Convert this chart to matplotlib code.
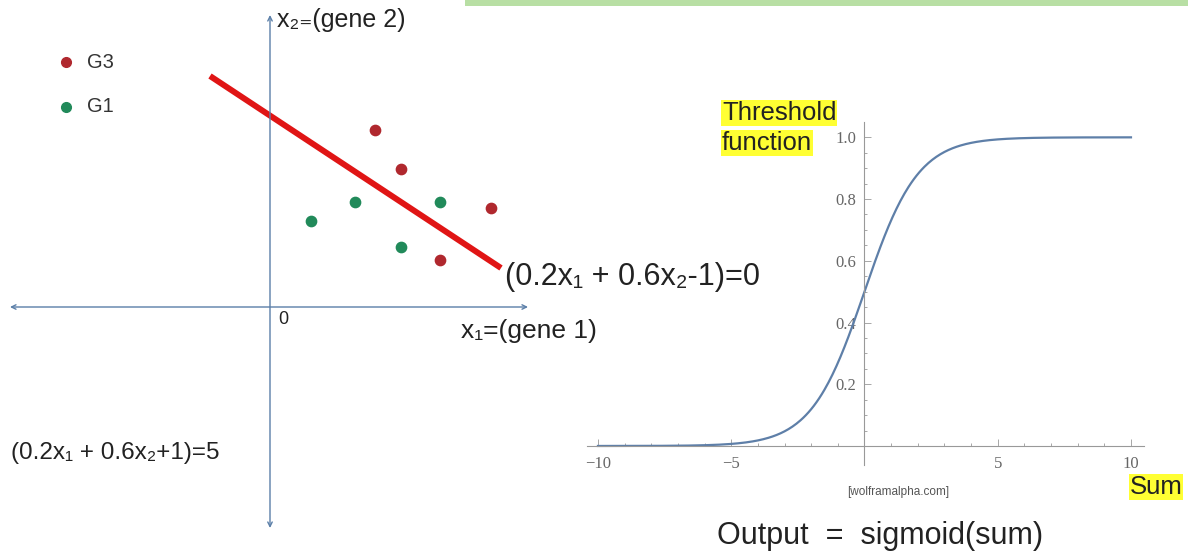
import numpy as np
import matplotlib.pyplot as plt
from matplotlib.patches import Rectangle

plt.rcParams['font.family'] = ['Liberation Sans', 'DejaVu Sans']

# data: gene scatter (schematic units, origin at axes cross)
g3_x = [5.25, 6.55, 11.05, 8.5]
g3_y = [8.85, 6.9, 4.95, 2.35]
g1_x = [2.05, 4.25, 8.5, 6.55]
g1_y = [4.3, 5.25, 5.25, 3.0]
line_x = [-3.0, 11.55]
line_y = [11.55, 1.95]

# sigmoid panel
sum_vals = np.linspace(-10, 10, 401)
sig_vals = 1 / (1 + np.exp(-sum_vals))
x_ticks = [-10, -5, 5, 10]
y_ticks = [0.2, 0.4, 0.6, 0.8, 1.0]

W, H = 1188, 553
fig = plt.figure(figsize=(W / 100, H / 100), dpi=100)

def P(x, y):
    return x / W, 1 - y / H

# left schematic
ax = fig.add_axes([0, 0, 1, 1])
ax.set_xlim(-270 / 20, (W - 270) / 20)
ax.set_ylim((307 - H) / 20, 307 / 20)
ax.axis('off')

axis_col = '#5b7fa8'
ax.annotate('', xy=(-13.0, 0), xytext=(12.9, 0),
            arrowprops=dict(arrowstyle='<->', color=axis_col, lw=1.0,
                            mutation_scale=8, shrinkA=0, shrinkB=0))
ax.annotate('', xy=(0, 14.6), xytext=(0, -11.05),
            arrowprops=dict(arrowstyle='<->', color=axis_col, lw=1.0,
                            mutation_scale=8, shrinkA=0, shrinkB=0))

ax.plot(line_x, line_y, color='#e01515', lw=4.3, solid_capstyle='butt')
ax.scatter(g3_x, g3_y, s=55, color='#b0282e', zorder=3)
ax.scatter(g1_x, g1_y, s=55, color='#218a5a', zorder=3)

# legend
fig.add_artist(plt.Line2D([66 / W], [1 - 62 / H], marker='o', ms=7,
                          color='#b0282e', transform=fig.transFigure))
fig.add_artist(plt.Line2D([66 / W], [1 - 107 / H], marker='o', ms=7,
                          color='#218a5a', transform=fig.transFigure))
txt = '#222222'
fig.text(*P(87, 62), 'G3', fontsize=14.5, va='center', color='#333333')
fig.text(*P(87, 107), 'G1', fontsize=14.5, va='center', color='#333333')

fig.text(*P(277, 20), 'x₂₌(gene 2)', fontsize=18, va='center', color=txt)
fig.text(*P(278, 319), '0', fontsize=13, va='center', color=txt)
fig.text(*P(461, 331), 'x₁=(gene 1)', fontsize=19, va='center', color=txt)
fig.text(*P(505, 277), '(0.2x₁ + 0.6x₂-1)=0', fontsize=22, va='center', color=txt)
fig.text(*P(11, 453), '(0.2x₁ + 0.6x₂+1)=5', fontsize=17.5, va='center', color=txt)

# top green strip
fig.add_artist(Rectangle(P(465, 6), (W - 465) / W, 6 / H, transform=fig.transFigure,
                         color='#b8dfa4', lw=0))

# sigmoid axes
ax2 = fig.add_axes([587.3 / W, (H - 464.5) / H, 557 / W, 342.6 / H])
ax2.set_xlim(-10.4, 10.5)
ax2.set_ylim(-0.06, 1.05)
ax2.patch.set_alpha(0)
ax2.plot(sum_vals, sig_vals, color='#5e7fa8', lw=1.6)
for s in ['top', 'right']:
    ax2.spines[s].set_visible(False)
ax2.spines['left'].set_position(('data', 0))
ax2.spines['bottom'].set_position(('data', 0))
for s in ['left', 'bottom']:
    ax2.spines[s].set_color('#999999')
    ax2.spines[s].set_linewidth(0.8)
ax2.set_xticks(x_ticks)
ax2.set_yticks(y_ticks)
ax2.set_xticks(np.arange(-10, 10.5, 1), minor=True)
ax2.set_yticks(np.arange(0.05, 1.01, 0.05), minor=True)
ax2.set_xticklabels([str(v) if v > 0 else '\u2212' + str(-v) for v in x_ticks])
ax2.set_yticklabels(['%.1f' % v for v in y_ticks])
ax2.tick_params(which='both', direction='in', colors='#999999', width=0.6,
                labelcolor='#666666', labelsize=12)
ax2.tick_params(which='major', length=5)
ax2.tick_params(which='minor', length=2.5)
ax2.tick_params(axis='x', pad=7)
ax2.tick_params(axis='y', pad=6)
for lab in ax2.get_xticklabels() + ax2.get_yticklabels():
    lab.set_family(['Liberation Serif', 'DejaVu Serif'])

yellow = '#ffff33'
fig.text(*P(722, 113), 'Threshold', fontsize=18.5, va='center', color=txt,
         bbox=dict(facecolor=yellow, edgecolor='none', pad=0.3))
fig.text(*P(722, 143), 'function', fontsize=18.5, va='center', color=txt,
         bbox=dict(facecolor=yellow, edgecolor='none', pad=0.3))
fig.text(*P(1130, 487), 'Sum', fontsize=18.5, va='center', color=txt,
         bbox=dict(facecolor=yellow, edgecolor='none', pad=0.3))
fig.text(*P(898, 492), '[wolframalpha.com]', fontsize=8.5, ha='center', va='center',
         color='#555555')
fig.text(*P(880, 536), 'Output  =  sigmoid(sum)', fontsize=22, ha='center',
         va='center', color=txt)

fig.savefig('out.png', dpi=100)
